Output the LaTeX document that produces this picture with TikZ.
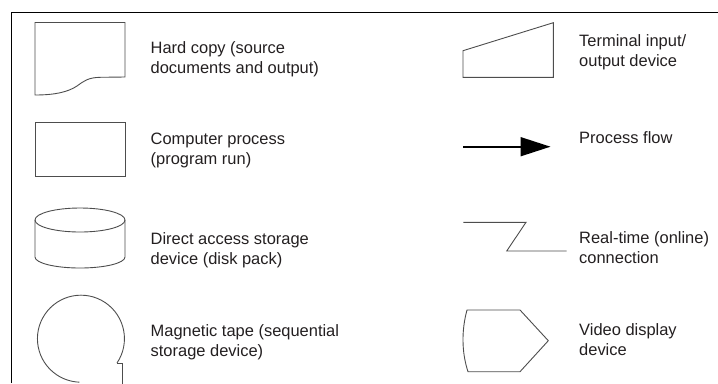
\documentclass[tikz,border=0pt]{standalone}
\usepackage{fontspec}
\setmainfont{Liberation Sans}
\usetikzlibrary{arrows.meta}
\definecolor{shapeline}{HTML}{4D4D4D}
\definecolor{txt}{HTML}{231F20}
\tikzset{
  shp/.style={draw=shapeline, line width=0.9bp, line join=miter},
  frameline/.style={draw=black, line width=1.3bp},
  lbl/.style={anchor=base west, inner sep=0pt, align=left, text=txt,
    font=\fontsize{16.45bp}{19.6bp}\selectfont},
}
\begin{document}
\begin{tikzpicture}[x=1bp, y=-1bp]
\useasboundingbox (0,0) rectangle (718,383);
% frame
\draw[frameline] (11.7,383) -- (11.7,12.3) -- (718,12.3);
% hard copy
\draw[shp] (35,95) -- (35,22.5) -- (125,22.5) -- (125,77) -- (100,77.3)
  .. controls (88,77.6) and (84,81) .. (77,86)
  .. controls (68,92) and (55,95) .. (35,95) -- cycle;
\node[lbl] (hc) at (150.5,73) {Hard copy (source\\documents and output)};
% computer process
\draw[shp] (35,122) rectangle (125,176);
\node[lbl] (cp) at (150.5,164) {Computer process\\(program run)};
% disk
\draw[shp] (80,220) ellipse [x radius=45, y radius=12];
\draw[shp] (35,220) -- (35,257) arc[start angle=180, end angle=0, x radius=45, y radius=11] -- (125,220);
\node[lbl] (da) at (150.5,264) {Direct access storage\\device (disk pack)};
% magnetic tape
\draw[shp] (117,363) arc[start angle=34, end angle=-268, radius=43.5];
\draw[shp] (117,363) -- (122,363) -- (122,384);
\node[lbl] (mt) at (150.5,356.5) {Magnetic tape (sequential\\storage device)};
% terminal
\draw[shp] (463,77.3) -- (553.3,77.3) -- (553.3,22.7) -- (463,50.7) -- cycle;
\node[lbl] (ti) at (579,66) {Terminal input/\\output device};
% process flow
\coordinate (pfa) at (463,146.7);
\coordinate (pfb) at (550.5,146.7);
\draw[line width=1.6bp, black, -{Triangle[length=30bp, width=19bp]}] (pfa) -- (pfb);
\node[lbl] (pf) at (579,143) {Process flow};
% real-time
\draw[shp] (463.3,222.3) -- (526,222.3) -- (506.7,251) -- (566.7,251);
\node[lbl] (rt) at (579,263) {Real-time (online)\\connection};
% video display
\draw[shp] (467,310) -- (520,310) -- (548.3,340.7) -- (520,371.7) -- (468,371.7)
  .. controls (461.5,352) and (461.5,330) .. (467,310) -- cycle;
\node[lbl] (vd) at (579,355.5) {Video display\\device};
\end{tikzpicture}
\end{document}
